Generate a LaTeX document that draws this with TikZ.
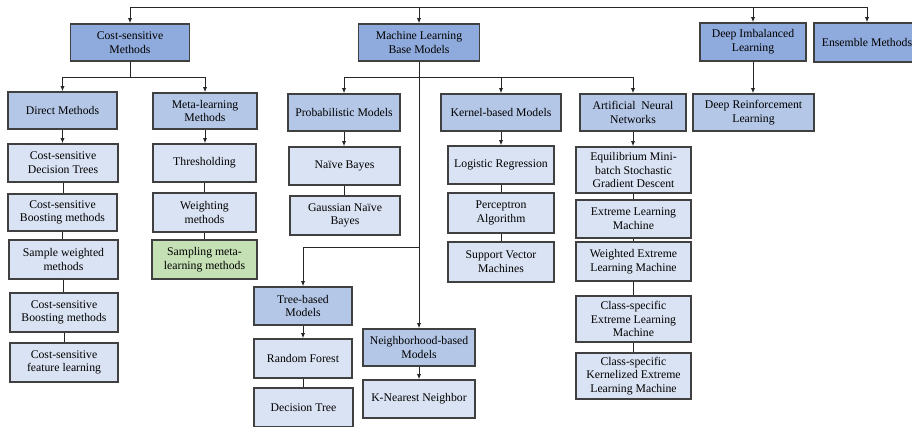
\documentclass[tikz,border=0pt]{standalone}
\usepackage{fontspec}
\setmainfont{Liberation Serif}
\newfontfamily\boxfont{Liberation Serif}
\usetikzlibrary{arrows.meta}

\definecolor{topfill}{RGB}{143,170,220}
\definecolor{midfill}{RGB}{180,199,231}
\definecolor{leaffill}{RGB}{218,227,243}
\definecolor{greenfill}{RGB}{197,224,180}
\definecolor{edgegray}{RGB}{64,64,64}

\tikzset{every picture/.style={line width=0.75pt}}
\tikzset{
  box/.style={draw=edgegray, line width=1pt, inner sep=0pt, align=center,
    minimum height=27.75pt, font=\boxfont\fontsize{8.8}{10.3}\selectfont},
  topbox/.style={box, fill=topfill},
  midbox/.style={box, fill=midfill},
  leafbox/.style={box, fill=leaffill},
  greenbox/.style={box, fill=greenfill},
  arr/.style={draw=black!85, -{Latex[length=4pt,width=3.2pt]}},
  link/.style={draw=black!85}
}

\begin{document}
\begin{tikzpicture}[x=0.75pt,y=0.75pt,yscale=-1,xscale=1]
\useasboundingbox (0,0) rectangle (912,426);
\clip (0,0) rectangle (912,426);

% top level
\node[topbox, minimum width=89.25pt] (cost) at (130,42.5) {Cost-sensitive\\Methods};
\node[topbox, minimum width=90.75pt] (mlbase) at (419,42.5) {Machine Learning\\Base Models};
\node[topbox, minimum width=79.5pt, minimum height=28.5pt] (deepimb) at (753,42) {Deep Imbalanced\\Learning};
\node[topbox, minimum width=79.5pt, minimum height=29.25pt] (ensemble) at (867,42.5) {Ensemble Methods};

% second level
\node[midbox, minimum width=81.75pt] (direct) at (62.5,110.5) {Direct Methods};
\node[midbox, minimum width=78pt, minimum height=27pt] (meta) at (205,111) {Meta-learning\\Methods};
\node[midbox, minimum width=84pt] (prob) at (344,112.5) {Probabilistic Models};
\node[midbox, minimum width=90pt] (kernel) at (501,112.5) {Kernel-based Models};
\node[midbox, minimum width=79.5pt] (ann) at (633,112.5) {Artificial\ \ Neural\\Networks};
\node[midbox, minimum width=90.75pt] (deeprl) at (753.5,112.5) {Deep Reinforcement\\Learning};
\node[midbox, minimum width=73.5pt, minimum height=28.5pt] (tree) at (303,306) {Tree-based\\Models};
\node[midbox, minimum width=84pt] (neigh) at (419,347.5) {Neighborhood-based\\Models};

% direct methods
\node[leafbox, minimum width=82.5pt, minimum height=28.5pt] (cdt) at (63,163) {Cost-sensitive\\Decision Trees};
\node[leafbox, minimum width=81.75pt] (cboost) at (62.5,212.5) {Cost-sensitive\\Boosting methods};
\node[leafbox, minimum width=81.75pt, minimum height=29.25pt] (sweight) at (63.5,259.5) {Sample weighted\\methods};
\node[leafbox, minimum width=81pt, minimum height=29.25pt] (cboostb) at (64,312.5) {Cost-sensitive\\Boosting methods};
\node[leafbox, minimum width=81pt, minimum height=29.25pt] (cfeat) at (64,362.5) {Cost-sensitive\\feature learning};

% meta-learning methods
\node[leafbox, minimum width=77.25pt, minimum height=28.5pt] (thresh) at (204.5,163) {Thresholding};
\node[leafbox, minimum width=77.25pt, minimum height=29.25pt] (weight) at (204.5,212.5) {Weighting\\methods};
\node[greenbox, minimum width=78.75pt, minimum height=29.25pt] (sampling) at (204.5,259.5) {Sampling meta-\\learning methods};

% probabilistic models
\node[leafbox, minimum width=83.25pt, minimum height=28.5pt] (nb) at (344.5,166) {Naïve Bayes};
\node[leafbox, minimum width=82.5pt, minimum height=29.25pt] (gnb) at (345,215.5) {Gaussian Naïve\\Bayes};

% kernel-based models
\node[leafbox, minimum width=79.5pt, minimum height=28.5pt] (logreg) at (501,165) {Logistic Regression};
\node[leafbox, minimum width=79.5pt, minimum height=30pt] (percep) at (501,213) {Perceptron\\Algorithm};
\node[leafbox, minimum width=79.5pt, minimum height=30pt] (svm) at (501,262) {Support Vector\\Machines};

% neural networks
\node[leafbox, minimum width=86.25pt, minimum height=34.5pt] (eq) at (633.5,170) {Equilibrium Mini-\\batch Stochastic\\Gradient Descent};
\node[leafbox, minimum width=86.25pt, minimum height=28.5pt] (elm) at (633.5,219) {Extreme Learning\\Machine};
\node[leafbox, minimum width=86.25pt, minimum height=29.25pt] (welm) at (633.5,261.5) {Weighted Extreme\\Learning Machine};
\node[leafbox, minimum width=86.25pt, minimum height=34.5pt] (celm) at (633.5,319) {Class-specific\\Extreme Learning\\Machine};
\node[leafbox, minimum width=86.25pt, minimum height=34.5pt] (ckelm) at (633.5,376) {Class-specific\\Kernelized Extreme\\Learning Machine};

% tree and neighborhood models
\node[leafbox, minimum width=73.5pt, minimum height=29.25pt] (rf) at (303,358.5) {Random Forest};
\node[leafbox, minimum width=74.25pt, minimum height=29.25pt] (dt) at (303.5,407.5) {Decision Tree};
\node[leafbox, minimum width=84pt, minimum height=28.5pt] (knn) at (419,399) {K-Nearest Neighbor};

% top bus
\coordinate (bus) at (0,7);
\draw[link] (cost.north |- bus) -- (ensemble.north |- bus);
\foreach \n in {cost,mlbase,deepimb,ensemble}
  \draw[arr] (\n.north |- bus) -- (\n.north);

% branches
\foreach \n in {direct,meta}
  \draw[arr] (cost.south) -- ++(0,16) -| (\n.north);
\foreach \n in {prob,kernel,ann}
  \draw[arr] (mlbase.south) -- ++(0,16) -| (\n.north);
\draw[arr] (mlbase.south) -- (neigh.north);
\coordinate (treebr) at (419,247);
\draw[arr] (treebr) -| (tree.north);
\draw[arr] (deepimb.south) -- (deepimb.south |- deeprl.north);

% first children
\draw[arr] (direct.south) -- (direct.south |- cdt.north);
\draw[arr] (meta.south) -- (meta.south |- thresh.north);
\draw[arr] (prob.south) -- (prob.south |- nb.north);
\draw[arr] (kernel.south) -- (kernel.south |- logreg.north);
\draw[arr] (ann.south) -- (ann.south |- eq.north);
\draw[arr] (tree.south) -- (tree.south |- rf.north);
\draw[arr] (neigh.south) -- (neigh.south |- knn.north);

% chains
\foreach \a/\b in {cdt/cboost,cboost/sweight,sweight/cboostb,cboostb/cfeat,
  thresh/weight,weight/sampling,nb/gnb,logreg/percep,percep/svm,
  eq/elm,elm/welm,welm/celm,celm/ckelm,rf/dt}
  \draw[link] (\a.south) -- (\a.south |- \b.north);

\end{tikzpicture}
\end{document}
